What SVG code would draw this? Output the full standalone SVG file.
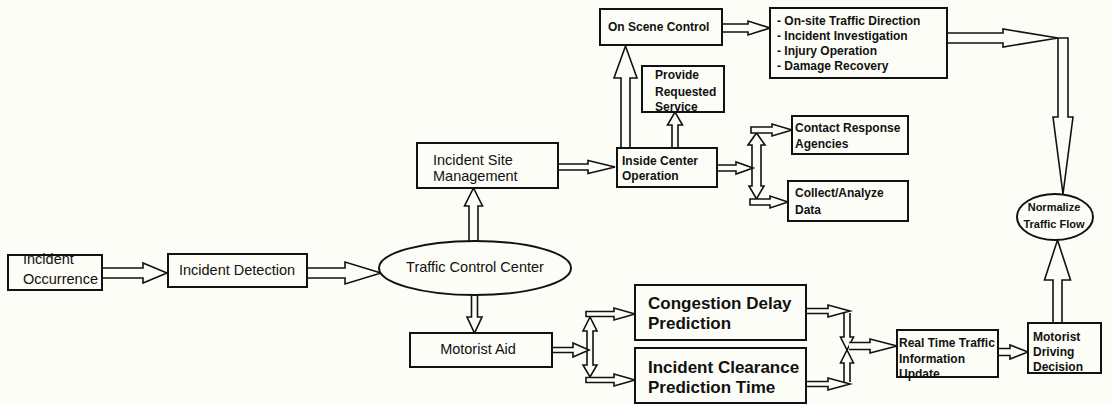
<svg xmlns="http://www.w3.org/2000/svg" width="1111" height="405" viewBox="0 0 1111 405">
  <style>
    .bg { fill: #fdfdf7; }
    .box { fill: #fdfdf7; stroke: #111; stroke-width: 2; }
    .arr { fill: #fdfdf7; stroke: #111; stroke-width: 1.6; stroke-linejoin: miter; }
    text { font-family: "Liberation Sans", Arial, sans-serif; fill: #111; }
    .t { font-size: 14.5px; }
    .b { font-size: 12px; font-weight: bold; }
    .s { font-size: 11px; font-weight: bold; }
    .big { font-size: 17px; font-weight: bold; }
    .mid { text-anchor: middle; }
  </style>
  <rect class="bg" x="0" y="0" width="1111" height="405"/>

  <!-- block arrows between the steps -->
  <g id="connectors">
    <path class="arr" d="M102,268 H143 V263 L167,273 L143,283 V278 H102"/>
    <path class="arr" d="M307,268 H345 V262 L381,273 L345,284 V278 H307"/>
    <path class="arr" d="M469,242 V206 H464.5 L473.5,188 L482.5,206 H478 V242"/>
    <path class="arr" d="M471.5,295 V317 H467 L474.5,333 L482,317 H477.5 V295"/>
    <path class="arr" d="M558,164 H588 V160.5 L615,167 L588,173.5 V170 H558"/>
    <path class="arr" d="M621,148 V78 H614 L625.5,46 L637,78 H630 V148"/>
    <path class="arr" d="M672,148 V125 H667.5 L675,112 L682.5,125 H678 V148"/>
    <!-- split after the inside center operation -->
    <path class="arr" d="M752,145 H748 L756.5,133 L765,145 H761 V186 H764 L756.5,199 L749,186 H752 Z"/>
    <path class="arr" d="M717,165 H736 V162 L753,168 L736,174 V171 H717"/>
    <path class="arr" d="M751,127 H772 V124 L792,130 L772,136 V133 H751 Z"/>
    <path class="arr" d="M750,199 H770 V196 L788,202 L770,208 V205 H750 Z"/>
    <path class="arr" d="M722,24 H748 V21 L770,28 L748,35 V32 H722"/>
    <path class="arr" d="M947,33 H1003 V29 L1058,38 L1003,47 V43 H947"/>
    <path class="arr" d="M1058,38 H1068 V117 H1073 L1063,194 L1053,117 H1058 Z"/>
    <!-- split after motorist aid -->
    <path class="arr" d="M587,331 H583 L590,317 L597,331 H593 V365 H597 L590,377 L583,365 H587 Z"/>
    <path class="arr" d="M552,347.5 H573 V343 L589,350 L573,357 V352.5 H552"/>
    <path class="arr" d="M586,311.5 H614 V308 L635,314 L614,320 V316.5 H586 Z"/>
    <path class="arr" d="M586,377.5 H614 V374 L635,380 L614,386 V382.5 H586 Z"/>
    <!-- merge into the real time update -->
    <path class="arr" d="M844,313 V337 H840.5 L847,350 L853.5,337 H850 V313"/>
    <path class="arr" d="M844,382 V363 H840.5 L847,350 L853.5,363 H850 V382"/>
    <path class="arr" d="M806,308.5 H828 V305 L850,311 L828,317 V313.5 H806"/>
    <path class="arr" d="M806,381.5 H828 V378 L850,384 L828,390 V386.5 H806"/>
    <path class="arr" d="M849,342.5 H870 V339 L897,346 L870,353 V349.5 H849"/>
    <path class="arr" d="M998,348.5 H1010 V345 L1028,352 L1010,359 V355.5 H998"/>
    <path class="arr" d="M1053,323 V280 H1044.5 L1057.5,240 L1070.5,280 H1062 V323"/>
  </g>

  <g id="incident-occurrence">
    <rect class="box" x="8" y="255" width="94" height="35"/>
    <text class="t" x="23" y="264">Incident</text>
    <text class="t" x="23" y="284">Occurrence</text>
  </g>
  <g id="incident-detection">
    <rect class="box" x="168" y="254" width="139" height="33"/>
    <text class="t mid" x="237" y="275">Incident Detection</text>
  </g>
  <g id="traffic-control-center">
    <ellipse class="box" cx="475" cy="268" rx="96" ry="27"/>
    <text class="t mid" x="475" y="272">Traffic Control Center</text>
  </g>
  <g id="incident-site-management">
    <rect class="box" x="417" y="143" width="141" height="45"/>
    <text class="t" x="433" y="165">Incident Site</text>
    <text class="t" x="433" y="181">Management</text>
  </g>
  <g id="motorist-aid">
    <rect class="box" x="410" y="333" width="142" height="34"/>
    <text class="t mid" x="478" y="354">Motorist Aid</text>
  </g>
  <g id="inside-center-operation">
    <rect class="box" x="617" y="148" width="100" height="39"/>
    <text class="b" x="622" y="165">Inside Center</text>
    <text class="b" x="622" y="180">Operation</text>
  </g>
  <g id="on-scene-control">
    <rect class="box" x="600" y="9" width="122" height="36"/>
    <text class="b" x="608" y="31">On Scene Control</text>
  </g>
  <g id="on-scene-tasks">
    <rect class="box" x="770" y="8" width="177" height="70"/>
    <text class="b" x="777" y="25">- On-site Traffic Direction</text>
    <text class="b" x="777" y="40">- Incident Investigation</text>
    <text class="b" x="777" y="55">- Injury Operation</text>
    <text class="b" x="777" y="70">- Damage Recovery</text>
  </g>
  <g id="provide-requested-service">
    <rect class="box" x="642" y="66" width="82" height="46"/>
    <text class="b" x="655" y="79">Provide</text>
    <text class="b" x="655" y="96">Requested</text>
    <text class="b" x="655" y="111">Service</text>
  </g>
  <g id="contact-response-agencies">
    <rect class="box" x="792" y="116" width="116" height="38"/>
    <text class="b" x="795" y="132">Contact Response</text>
    <text class="b" x="795" y="148">Agencies</text>
  </g>
  <g id="collect-analyze-data">
    <rect class="box" x="788" y="181" width="120" height="40"/>
    <text class="b" x="795" y="197">Collect/Analyze</text>
    <text class="b" x="795" y="214">Data</text>
  </g>
  <g id="congestion-delay-prediction">
    <rect class="box" x="635" y="285" width="171" height="55"/>
    <text class="big" x="648" y="309">Congestion Delay</text>
    <text class="big" x="648" y="329">Prediction</text>
  </g>
  <g id="incident-clearance-prediction">
    <rect class="box" x="635" y="348" width="171" height="55"/>
    <text class="big" x="648" y="373">Incident Clearance</text>
    <text class="big" x="648" y="393">Prediction Time</text>
  </g>
  <g id="real-time-update">
    <rect class="box" x="897" y="330" width="101" height="47"/>
    <text class="b" x="899" y="347">Real Time Traffic</text>
    <text class="b" x="899" y="363">Information</text>
    <text class="b" x="899" y="378">Update</text>
  </g>
  <g id="motorist-driving-decision">
    <rect class="box" x="1028" y="323" width="73" height="50"/>
    <text class="b" x="1033" y="341">Motorist</text>
    <text class="b" x="1033" y="356">Driving</text>
    <text class="b" x="1033" y="371">Decision</text>
  </g>
  <g id="normalize-traffic-flow">
    <ellipse class="box" cx="1055" cy="217" rx="38" ry="23"/>
    <text class="s mid" x="1054" y="211">Normalize</text>
    <text class="s mid" x="1054" y="228">Traffic Flow</text>
  </g>
</svg>
